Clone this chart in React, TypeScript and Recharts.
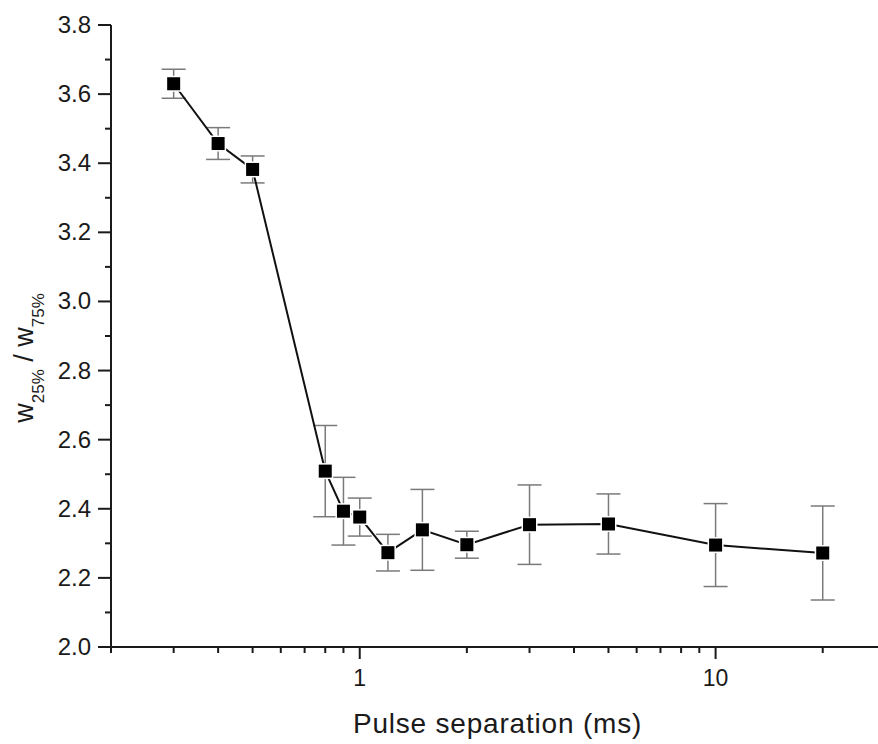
import React from "react"
import { ComposedChart, Line, ErrorBar, XAxis, YAxis } from "recharts"

// pulse separation (ms)
const separations = [0.3, 0.4, 0.5, 0.8, 0.9, 1, 1.2, 1.5, 2, 3, 5, 10, 20]
// w25% / w75% ratio
const ratios = [3.63, 3.457, 3.382, 2.509, 2.393, 2.376, 2.273, 2.339, 2.296, 2.354, 2.356, 2.295, 2.272]
const errors = [0.042, 0.046, 0.039, 0.132, 0.098, 0.055, 0.053, 0.117, 0.039, 0.115, 0.087, 0.12, 0.136]

const xTicks = [0.2, 0.3, 0.4, 0.5, 0.6, 0.7, 0.8, 0.9, 1, 2, 3, 4, 5, 6, 7, 8, 9, 10, 20]
const xLabeled = [1, 10]
const yTicks = [2.0, 2.1, 2.2, 2.3, 2.4, 2.5, 2.6, 2.7, 2.8, 2.9, 3.0, 3.1, 3.2, 3.3, 3.4, 3.5, 3.6, 3.7, 3.8]
const yLabeled = ["2.0", "2.2", "2.4", "2.6", "2.8", "3.0", "3.2", "3.4", "3.6", "3.8"]

const data = separations.map((x, i) => ({ x, y: ratios[i], err: errors[i] }))

const FONT = '"Liberation Sans", Arial, Helvetica, sans-serif'
const INK = "#1a1a1a"

function XTick(props: any) {
  const { x, y, payload } = props
  const major = xLabeled.includes(payload.value)
  return (
    <g>
      <line x1={x} x2={x} y1={y} y2={y + (major ? 12 : 6)} stroke={INK} strokeWidth={2} />
      {major && (
        <text x={x} y={y + 39} textAnchor="middle" fontSize={23} fontFamily={FONT} fill={INK}>
          {payload.value}
        </text>
      )}
    </g>
  )
}

function YTick(props: any) {
  const { x, y, payload } = props
  const label = Number(payload.value).toFixed(1)
  const major = yLabeled.includes(label)
  return (
    <g>
      <line x1={x} x2={x - (major ? 13 : 6)} y1={y} y2={y} stroke={INK} strokeWidth={2} />
      {major && (
        <text x={x - 20} y={y + 8} textAnchor="end" fontSize={24} fontFamily={FONT} fill={INK}>
          {label}
        </text>
      )}
    </g>
  )
}

function Square(props: any) {
  const { cx, cy, index } = props
  if (cx == null || cy == null) return null
  return (
    <g key={`sq-${index}`}>
      <rect x={cx - 8} y={cy - 8} width={16} height={16} fill="#fff" />
      <rect x={cx - 6.5} y={cy - 6.5} width={13} height={13} fill="#000" />
    </g>
  )
}

const xTitle = (props: any) => {
  const vb = props.viewBox || { x: 111, width: 767 }
  return (
    <text x={vb.x + vb.width / 2 + 3} y={733} textAnchor="middle" fontSize={28} letterSpacing={0.8} fontFamily={FONT} fill={INK}>
      Pulse separation (ms)
    </text>
  )
}

const yTitle = () => (
  <text transform="translate(33, 358) rotate(-90)" textAnchor="middle" fontFamily={FONT} fill={INK} fontSize={27}>
    <tspan>w</tspan>
    <tspan fontSize={17} dy={11}>25%</tspan>
    <tspan dy={-11}> / w</tspan>
    <tspan fontSize={17} dy={11}>75%</tspan>
  </text>
)

export default function App() {
  return (
    <div style={{ position: "fixed", left: 0, top: 0, width: 878, height: 744, overflow: "hidden", background: "#fff" }}>
      <ComposedChart width={878} height={744} data={data} margin={{ top: 25, right: 0, left: 0, bottom: 0 }}>
        <XAxis
          dataKey="x"
          type="number"
          scale="log"
          domain={[0.2, 28.6]}
          allowDataOverflow
          ticks={xTicks}
          interval={0}
          tick={<XTick />}
          tickSize={0}
          tickMargin={0}
          tickLine={false}
          axisLine={{ stroke: INK, strokeWidth: 2 }}
          height={97}
          label={xTitle}
        />
        <YAxis
          type="number"
          domain={[2, 3.8]}
          allowDataOverflow
          ticks={yTicks}
          interval={0}
          tick={<YTick />}
          tickSize={0}
          tickMargin={0}
          tickLine={false}
          axisLine={{ stroke: INK, strokeWidth: 2 }}
          width={111}
          label={yTitle}
        />
        <Line
          dataKey="y"
          type="linear"
          stroke="#111"
          strokeWidth={2}
          dot={Square}
          activeDot={false}
          isAnimationActive={false}
        >
          <ErrorBar dataKey="err" direction="y" width={12} stroke="#7a7a7a" strokeWidth={1.5} />
        </Line>
      </ComposedChart>
    </div>
  )
}
